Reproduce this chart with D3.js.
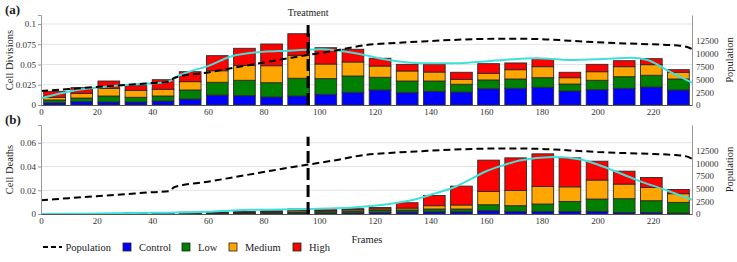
<!DOCTYPE html>
<html>
<head>
<meta charset="utf-8">
<script src="https://cdn.jsdelivr.net/npm/d3@7"></script>
<style>
  body { margin: 0; background: #fff; }
  text { font-family: "Liberation Serif", "Times New Roman", serif; fill: #222; }
</style>
</head>
<body>
<div id="chart"></div>
<script>
// bins of 10 frames
const bins = [0, 10, 20, 30, 40, 50, 60, 70, 80, 90, 100, 110, 120, 130, 140, 150, 160, 170, 180, 190, 200, 210, 220, 230];
const groups = ['Control', 'Low', 'Medium', 'High'];

// (a) cell divisions
const divControl = [.0028, .0041, .0037, .0037, .0049, .0074, .0123, .0115, .0099, .0111, .0132, .0157, .0185, .0152, .0169, .016, .0201, .0206, .0219, .0173, .0189, .0206, .0222, .0185];
const divLow     = [.0034, .0045, .0074, .0058, .0062, .0111, .0157, .019, .0176, .0219, .0193, .0201, .0157, .0144, .0127, .0096, .0108, .0115, .0118, .0086, .0116, .0143, .0145, .0136];
const divMedium  = [.0033, .0058, .0095, .0086, .0083, .0103, .0143, .0185, .021, .0284, .0181, .0173, .0139, .0124, .0111, .0061, .0082, .0115, .0136, .0078, .0106, .0124, .0131, .0083];
const divHigh    = [.0074, .007, .009, .0057, .0118, .0123, .0186, .021, .0268, .0266, .0201, .0157, .0096, .0082, .0095, .0087, .0119, .0083, .0099, .0067, .0091, .0074, .0074, .0032];

// (b) cell deaths
const deathControl = [.00005, .0001, .0001, .0003, .0003, .0004, .0004, .0005, .0006, .0008, .0008, .001, .0013, .0017, .0019, .0019, .0028, .0022, .0022, .0022, .0022, .0013, .0013, .0008];
const deathLow     = [.00005, .0001, .0001, .0003, .0004, .0004, .0006, .0006, .0008, .001, .0012, .0015, .0017, .0017, .0023, .0023, .005, .0048, .0062, .0084, .0104, .0116, .0099, .009];
const deathMedium  = [.00005, .0001, .0001, .0003, .0003, .0004, .0004, .0005, .0007, .0011, .0009, .0011, .0012, .0016, .0028, .0034, .0112, .0128, .0148, .0123, .016, .0123, .0112, .0073];
const deathHigh    = [.00005, .0001, .0001, .0002, .0003, .0003, .0003, .0004, .0006, .0013, .0016, .0009, .0013, .0045, .0086, .0159, .0264, .0275, .0275, .0244, .0159, .0109, .0084, .0036];

// population (right axis)
const popFrames = [0, 10, 20, 30, 40, 46, 48, 60, 70, 80, 90, 96, 105, 117, 128, 137, 148, 158, 168, 180, 190, 200, 210, 220, 228, 232, 234];
const popValues = [2720, 3110, 3500, 3890, 4280, 4500, 5300, 6340, 7300, 8250, 9200, 9720, 10500, 11660, 12100, 12360, 12650, 12830, 12900, 12800, 12500, 12200, 11970, 11800, 11600, 11330, 10850];

// smoothed trends (cyan)
const divTrendFrames = [0, 11, 23, 35, 45, 50, 55, 60, 68, 80, 89, 101, 113, 125, 137, 149, 158, 166, 178, 190, 202, 212, 218, 226, 234];
const divTrendValues = [.0083, .0173, .0226, .0259, .028, .037, .043, .048, .0596, .0658, .067, .0688, .0638, .0556, .0515, .0515, .0535, .0556, .0577, .0556, .0568, .0584, .0556, .0411, .0275];
const deathTrendFrames = [0, 20, 40, 60, 69, 75, 96, 111, 123, 135, 142, 149, 155, 160, 166, 172, 184, 194, 202, 214, 226, 234];
const deathTrendValues = [0, .0005, .001, .0018, .003, .0035, .0042, .0053, .0078, .0126, .0176, .023, .030, .036, .041, .045, .048, .046, .040, .0288, .019, .012];

// ticks
const divTicks = [0, 0.025, 0.05, 0.075, 0.1];
const deathTicks = [0, 0.02, 0.04, 0.06];
const popTicks = [0, 2500, 5000, 7500, 10000, 12500];
const frameTicks = [0, 20, 40, 60, 80, 100, 120, 140, 160, 180, 200, 220];
const treatmentFrame = 96;

const colors = { Control: '#0000ff', Low: '#008000', Medium: '#ffa500', High: '#ff0000' };

const width = 737, height = 262;
const plotLeft = 41, plotRight = 692;

const svg = d3.select('#chart')
              .append('svg')
              .attr('width', width)
              .attr('height', height);

const x = d3.scaleLinear().domain([0, 234]).range([plotLeft, plotRight]);
const band = d3.scaleBand().domain(bins).range([plotLeft, plotRight])
               .paddingInner(0.2).paddingOuter(0.1);

const panels = [
    { top: 15, bottom: 105, yMax: 0.1111, ticks: divTicks, tag: '(a)', label: 'Cell Divisions',
      series: [divControl, divLow, divMedium, divHigh],
      trendF: divTrendFrames, trendV: divTrendValues, treatTop: 0.104 },
    { top: 125, bottom: 214, yMax: 0.075, ticks: deathTicks, tag: '(b)', label: 'Cell Deaths',
      series: [deathControl, deathLow, deathMedium, deathHigh],
      trendF: deathTrendFrames, trendV: deathTrendValues, treatTop: 0.065 }
];

panels.forEach((p, pi) => {
    const y = d3.scaleLinear().domain([0, p.yMax]).range([p.bottom, p.top]);
    const yPop = d3.scaleLinear().domain([0, 17500]).range([p.bottom, p.top]);
    const g = svg.append('g');

    // grid
    g.selectAll('.grid')
     .data(p.ticks.filter(d => d > 0))
     .enter()
     .append('line')
     .attr('x1', plotLeft).attr('x2', plotRight)
     .attr('y1', d => y(d)).attr('y2', d => y(d))
     .attr('stroke', '#e3e3e3')
     .attr('stroke-width', 1);

    // stacked bars
    const rows = bins.map((b, i) => {
        const r = { bin: b };
        groups.forEach((k, j) => r[k] = p.series[j][i]);
        return r;
    });
    const stacked = d3.stack().keys(groups)(rows);

    g.selectAll('.layer')
     .data(stacked)
     .enter()
     .append('g')
     .attr('fill', d => colors[d.key])
     .selectAll('rect')
     .data(d => d)
     .enter()
     .append('rect')
     .attr('x', d => band(d.data.bin))
     .attr('width', band.bandwidth())
     .attr('y', d => y(d[1]))
     .attr('height', d => y(d[0]) - y(d[1]))
     .attr('stroke', '#2a2a2a')
     .attr('stroke-width', 0.9);

    // cyan trend
    const trend = p.trendF.map((f, i) => [f, p.trendV[i]]);
    g.append('path')
     .datum(trend)
     .attr('fill', 'none')
     .attr('stroke', '#40e0d8')
     .attr('stroke-width', 2)
     .attr('d', d3.line().x(d => x(d[0])).y(d => y(d[1])).curve(d3.curveMonotoneX));

    // population
    const pop = popFrames.map((f, i) => [f, popValues[i]]);
    g.append('path')
     .datum(pop)
     .attr('fill', 'none')
     .attr('stroke', '#000')
     .attr('stroke-width', 2)
     .attr('stroke-dasharray', '7,4')
     .attr('d', d3.line().x(d => x(d[0])).y(d => yPop(d[1])).curve(d3.curveMonotoneX));

    // treatment
    g.append('line')
     .attr('x1', x(treatmentFrame)).attr('x2', x(treatmentFrame))
     .attr('y1', y(0)).attr('y2', y(p.treatTop))
     .attr('stroke', '#000')
     .attr('stroke-width', 3)
     .attr('stroke-dasharray', '12,5');

    // axes
    const leftAxis = g.append('g')
     .attr('transform', 'translate(' + plotLeft + ',0)')
     .call(d3.axisLeft(y).tickValues(p.ticks).tickSize(3).tickPadding(2).tickFormat(d => String(d)));
    const rightAxis = g.append('g')
     .attr('transform', 'translate(' + plotRight + ',0)')
     .call(d3.axisRight(yPop).tickValues(popTicks).tickSize(0).tickPadding(4).tickFormat(d3.format('d')));
    const bottomAxis = g.append('g')
     .attr('transform', 'translate(0,' + p.bottom + ')')
     .call(d3.axisBottom(x).tickValues(frameTicks).tickSize(0).tickPadding(4));

    [leftAxis, rightAxis, bottomAxis].forEach(a => {
        a.attr('font-family', null);
        a.select('.domain').attr('stroke', '#999');
        a.selectAll('.tick line').attr('stroke', '#999');
        a.selectAll('text')
         .style('font-family', '"Liberation Serif", serif')
         .style('font-size', '9px')
         .style('fill', '#333');
    });
    bottomAxis.select('.domain').attr('stroke', '#555');

    // labels
    svg.append('text')
       .text(p.tag)
       .attr('x', 5).attr('y', p.top - 1)
       .attr('font-size', 13).attr('font-weight', 'bold');

    svg.append('text')
       .text(p.label)
       .attr('transform', 'translate(13,' + ((p.top + p.bottom) / 2) + ') rotate(-90)')
       .attr('text-anchor', 'middle')
       .attr('font-size', 10.5);

    svg.append('text')
       .text('Population')
       .attr('transform', 'translate(733,' + ((p.top + p.bottom) / 2) + ') rotate(-90)')
       .attr('text-anchor', 'middle')
       .attr('font-size', 10.5);
});

svg.append('text')
   .text('Treatment')
   .attr('x', x(treatmentFrame)).attr('y', 16)
   .attr('text-anchor', 'middle')
   .attr('font-size', 10);

svg.append('text')
   .text('Frames')
   .attr('x', 367).attr('y', 243)
   .attr('text-anchor', 'middle')
   .attr('font-size', 10.5);

// legend
const legend = svg.append('g').attr('transform', 'translate(0,247)');
legend.append('line')
      .attr('x1', 43).attr('x2', 62).attr('y1', 0).attr('y2', 0)
      .attr('stroke', '#000').attr('stroke-width', 2).attr('stroke-dasharray', '5,3');
legend.append('text').text('Population').attr('x', 65.5).attr('y', 3.5).attr('font-size', 10.5);

const legendX = { Control: 123, Low: 182, Medium: 229, High: 293 };
groups.forEach(k => {
    legend.append('rect')
          .attr('x', legendX[k]).attr('y', -4).attr('width', 8).attr('height', 8)
          .attr('fill', colors[k]).attr('stroke', '#222').attr('stroke-width', 0.8);
    legend.append('text').text(k)
          .attr('x', legendX[k] + 16).attr('y', 3.5).attr('font-size', 10.5);
});
</script>
</body>
</html>
